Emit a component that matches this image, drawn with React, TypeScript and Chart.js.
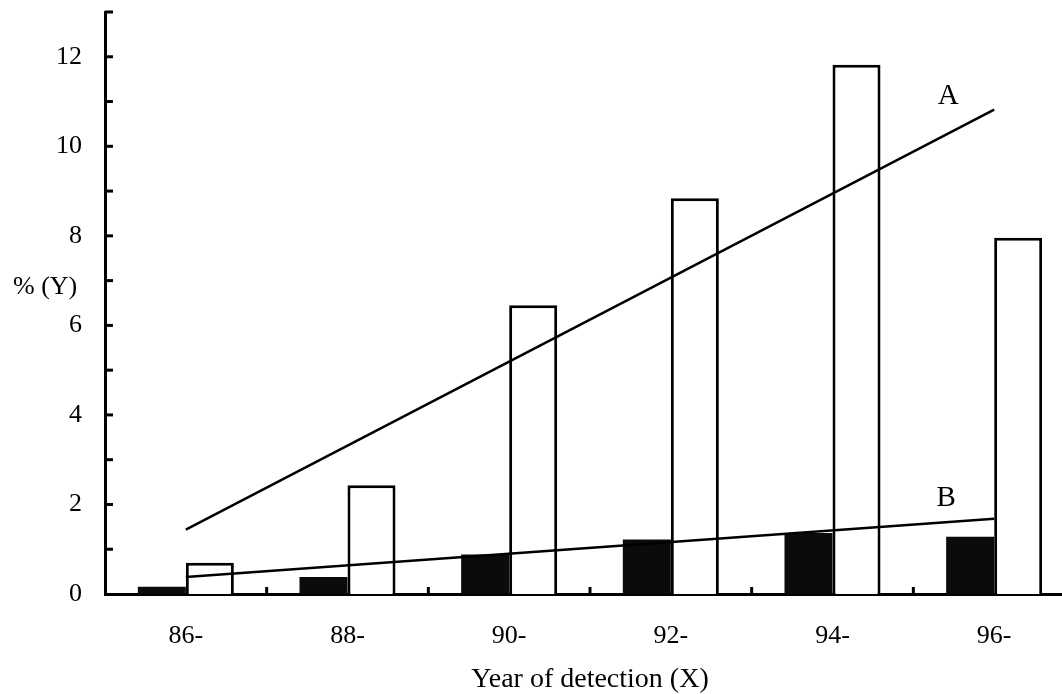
import React, { useEffect, useRef } from "react";
import { Chart, registerables } from "chart.js";

Chart.register(...registerables);

const categories = ["86-", "88-", "90-", "92-", "94-", "96-"];
const seriesB = [0.16, 0.38, 0.88, 1.22, 1.36, 1.28]; // black bars
const seriesA = [0.7, 2.43, 6.45, 8.84, 11.82, 7.96]; // white bars
const trendA = [1.44, null, null, null, null, 10.82];
const trendB = [0.38, null, null, null, null, 1.68];
const yTickLabels = ["0", "2", "4", "6", "8", "10", "12"];
const yMax = 13;

const FONT = "'Liberation Serif', 'Times New Roman', serif";

const decorPlugin = {
  id: "decor",
  afterDraw(chart: any) {
    const { ctx, chartArea, scales } = chart;
    const x = scales.x;
    const y = scales.y;
    ctx.save();
    ctx.strokeStyle = "#000";
    ctx.lineWidth = 3;
    // inward y ticks
    for (let v = 1; v <= yMax; v++) {
      const py = y.getPixelForValue(v);
      ctx.beginPath();
      ctx.moveTo(chartArea.left, py);
      ctx.lineTo(chartArea.left + 8, py);
      ctx.stroke();
    }
    // inward x ticks at category boundaries
    for (let i = 1; i < categories.length; i++) {
      const px = (x.getPixelForValue(i - 1) + x.getPixelForValue(i)) / 2;
      ctx.beginPath();
      ctx.moveTo(px, chartArea.bottom);
      ctx.lineTo(px, chartArea.bottom - 7);
      ctx.stroke();
    }
    ctx.fillStyle = "#000";
    ctx.textBaseline = "middle";
    ctx.textAlign = "left";
    ctx.font = `26px ${FONT}`;
    ctx.fillText("% (Y)", 13, 287);
    ctx.textAlign = "center";
    ctx.font = `29px ${FONT}`;
    const last = categories.length - 1;
    const xe = x.getPixelForValue(last);
    ctx.fillText("A", xe - 46, y.getPixelForValue(trendA[last] as number) - 13);
    ctx.fillText("B", xe - 48, y.getPixelForValue(trendB[last] as number) - 20);
    ctx.restore();
  },
};

export default function App() {
  const ref = useRef<HTMLCanvasElement | null>(null);

  useEffect(() => {
    if (!ref.current) return;
    const chart = new Chart(ref.current, {
      type: "bar",
      data: {
        labels: categories,
        datasets: [
          {
            type: "line",
            label: "A trend",
            data: trendA,
            borderColor: "#000",
            borderWidth: 2.5,
            pointRadius: 0,
            spanGaps: true,
            fill: false,
            order: 0,
          } as any,
          {
            type: "line",
            label: "B trend",
            data: trendB,
            borderColor: "#000",
            borderWidth: 2.5,
            pointRadius: 0,
            spanGaps: true,
            fill: false,
            order: 0,
          } as any,
          {
            type: "bar",
            label: "B",
            data: seriesB,
            backgroundColor: "#0b0b0b",
            borderColor: "#000",
            borderWidth: 0,
            categoryPercentage: 0.594,
            barPercentage: 1,
            order: 1,
          },
          {
            type: "bar",
            label: "A",
            data: seriesA,
            backgroundColor: "#fff",
            borderColor: "#000",
            borderWidth: 3,
            borderSkipped: "bottom",
            categoryPercentage: 0.594,
            barPercentage: 1,
            order: 1,
          },
        ],
      },
      options: {
        animation: false,
        responsive: false,
        devicePixelRatio: 1,
        layout: { padding: { top: 12, right: 15, bottom: 0, left: 0 } },
        plugins: {
          legend: { display: false },
          tooltip: { enabled: false },
        },
        scales: {
          x: {
            type: "category",
            offset: true,
            z: 1,
            grid: { display: false, drawTicks: false },
            border: { display: true, color: "#000", width: 3 },
            ticks: {
              color: "#000",
              font: { family: FONT, size: 26, lineHeight: 1 },
              padding: 29,
              maxRotation: 0,
              autoSkip: false,
            },
            title: {
              display: true,
              text: "Year of detection (X)",
              color: "#000",
              font: { family: FONT, size: 28, lineHeight: 1 },
              padding: { top: 0, bottom: 0 },
            },
            afterFit: (s: any) => {
              s.height = 100;
              s.paddingLeft = 0;
              s.paddingRight = 0;
            },
          },
          y: {
            min: 0,
            max: yMax,
            z: 1,
            grid: { display: false, drawTicks: false },
            border: { display: true, color: "#000", width: 3 },
            ticks: {
              stepSize: 1,
              autoSkip: false,
              color: "#000",
              padding: 23,
              font: { family: FONT, size: 26, lineHeight: 1 },
              callback: (v: any) => (yTickLabels.includes(String(v)) ? String(v) : ""),
            },
            afterBuildTicks: (s: any) => {
              s.ticks = s.ticks.filter((t: any) => t.value <= 12);
            },
            afterFit: (s: any) => {
              s.width = 105;
              s.paddingTop = 0;
              s.paddingBottom = 0;
            },
          },
        },
      },
      plugins: [decorPlugin],
    } as any);
    return () => chart.destroy();
  }, []);

  return (
    <div
      style={{
        position: "fixed",
        left: 0,
        top: 0,
        width: 1062,
        height: 694,
        overflow: "hidden",
        background: "#fff",
      }}
    >
      <canvas ref={ref} width={1090} height={694} style={{ display: "block" }} />
    </div>
  );
}
